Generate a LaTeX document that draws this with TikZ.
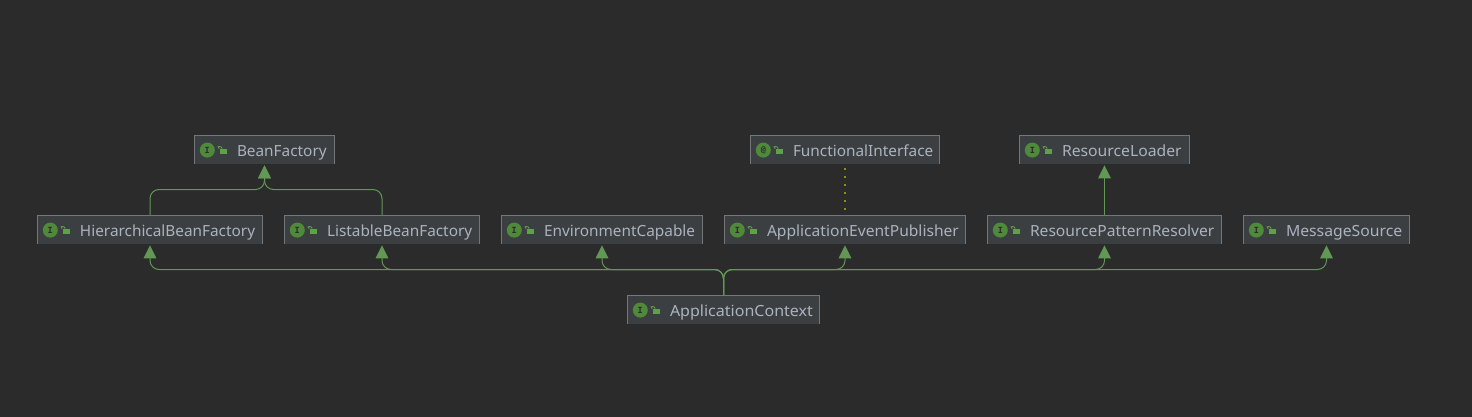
\documentclass[tikz,border=0pt]{standalone}
\usepackage{graphicx}
\usepackage{fontspec}
\setmainfont{Noto Sans}
\newfontfamily\iconfont{DejaVu Sans Mono}
\usetikzlibrary{arrows.meta,calc}
\definecolor{bgdark}{HTML}{2B2B2B}
\definecolor{boxfill}{HTML}{3C3F41}
\definecolor{boxedge}{HTML}{73777A}
\definecolor{labeltext}{HTML}{ABB3BF}
\definecolor{inhgreen}{HTML}{629755}
\definecolor{icongreen}{HTML}{4F8A3A}
\definecolor{lockgreen}{HTML}{5FA04A}
\definecolor{dotolive}{HTML}{8C8F1E}
\tikzset{
  x=1pt,y=-1pt,
  ifacebox/.style={fill=boxfill,inner sep=0pt,minimum height=28.5pt,text=labeltext,
    font=\fontsize{15.35}{18}\selectfont,text height=13.4pt,text depth=0pt},
  inh/.style={draw=inhgreen,line width=1pt,rounded corners=9pt,
    -{Triangle[length=13pt,width=12.5pt,fill=inhgreen]},shorten >=1pt},
  iconletter/.style={inner sep=0pt,text=bgdark,font=\iconfont\bfseries\fontsize{8.5}{9}\selectfont},
}
% [text stretch], name, centre x, centre y, width, icon letter, text
\newcommand{\ifaceitem}[7][1]{%
  \node[ifacebox,minimum width=#5pt] (#2) at (#3,#4) {\makebox[#5pt][l]{\hspace*{42.5pt}\scalebox{#1}[1]{#7}}};
  \draw[boxedge,line width=1pt] (#2.south west) -- (#2.north west) -- (#2.north east) -- (#2.south east);
  \fill[icongreen] ($(#2.west)+(13,0.3)$) circle (7.5pt);
  \node[iconletter] (#2icon) at ($(#2.west)+(13,0.3)$) {#6};
  \fill[lockgreen] ($(#2.west)+(26,-0.8)$) rectangle ++(6.5,5.3);
  \draw[lockgreen,line width=0.8pt] ($(#2.west)+(27.6,-0.8)$) -- ++(0,-1) .. controls +(0,-2) and +(-3,-2) .. ++(-3,0) -- ++(0,1);
}
\begin{document}
\begin{tikzpicture}
\useasboundingbox (0,0) rectangle (1472,417);
\fill[bgdark] (0,0) rectangle (1472,417);
\ifaceitem{bf}{264.5}{149.8}{140}{I}{BeanFactory}
\ifaceitem{fi}{845}{149.8}{189}{@}{FunctionalInterface}
\ifaceitem[1.025]{rl}{1104.5}{149.8}{170}{I}{ResourceLoader}
\ifaceitem{hbf}{150}{229.8}{225}{I}{HierarchicalBeanFactory}
\ifaceitem{lbf}{382}{229.8}{195}{I}{ListableBeanFactory}
\ifaceitem{ec}{602}{229.8}{201}{I}{EnvironmentCapable}
\ifaceitem[1.016]{aep}{845}{229.8}{241}{I}{ApplicationEventPublisher}
\ifaceitem[1.016]{rpr}{1104.5}{229.8}{234}{I}{ResourcePatternResolver}
\ifaceitem[1.026]{ms}{1326.5}{229.8}{166}{I}{MessageSource}
\ifaceitem[1.044]{ac}{723.5}{309.8}{192}{I}{ApplicationContext}
\coordinate (topbus) at (0,189.5);
\coordinate (bus) at (0,269.5);
\draw[inh] (hbf.north) -- (hbf.north|-topbus) -- (bf.south|-topbus) -- (bf.south);
\draw[inh] (lbf.north) -- (lbf.north|-topbus) -- (bf.south|-topbus) -- (bf.south);
\draw[inh] (rpr.north) -- (rl.south);
\draw[draw=dotolive,line width=2pt,dash pattern=on 2pt off 6pt] (fi.south)++(0,3.5) -- (aep.north);
\foreach \target in {hbf,lbf,ec,aep,rpr,ms}{
  \draw[inh] (ac.north) -- (ac.north|-bus) -- (\target.south|-bus) -- (\target.south);
}
\end{tikzpicture}
\end{document}
